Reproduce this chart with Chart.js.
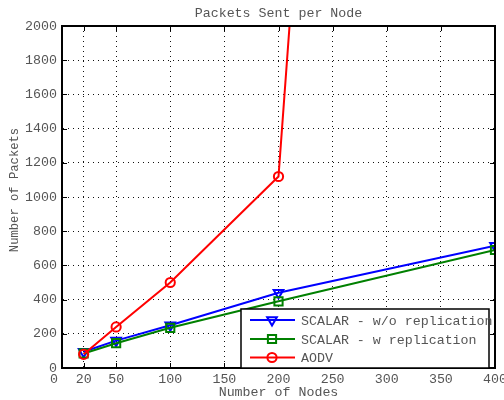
<!DOCTYPE html>
<html>
<head>
<meta charset="utf-8">
<script src="https://cdn.jsdelivr.net/npm/chart.js@4/dist/chart.umd.min.js"></script>
<style>
  html, body { margin: 0; padding: 0; background: #fff; }
  canvas { display: block; }
</style>
</head>
<body>
<canvas id="c" width="504" height="400"></canvas>
<script>
// Number of nodes in each simulation run
const nodes = [20, 50, 100, 200, 400];
// Packets sent per node
const scalarNoRepl = [95, 160, 250, 440, 715];
const scalarRepl = [85, 145, 235, 390, 690];
const aodv = [80, 240, 500, 1120, 18400];
// Axis ticks
const xTicks = [0, 20, 50, 100, 150, 200, 250, 300, 350, 400];
const seriesLabels = ['SCALAR - w/o replication', 'SCALAR - w replication', 'AODV'];
const chartTitle = 'Packets Sent per Node';
const yTitle = 'Number of Packets';

const FONT = "'Liberation Mono', 'DejaVu Sans Mono', monospace";
const FSIZE = 13.3;
const TEXT = '#555';

const pts = vals => nodes.map((n, i) => ({ x: n, y: vals[i] }));

const styles = [
  { color: '#0000ff', pointStyle: 'triangle', rotation: 180, radius: 5.6 },
  { color: '#008000', pointStyle: 'rect', rotation: 0, radius: 5.8 },
  { color: '#ff0000', pointStyle: 'circle', rotation: 0, radius: 4.6 }
];
const seriesData = [scalarNoRepl, scalarRepl, aodv];

const datasets = seriesData.map((vals, i) => ({
  label: seriesLabels[i],
  data: pts(vals),
  borderColor: styles[i].color,
  backgroundColor: 'transparent',
  borderWidth: 2,
  pointStyle: styles[i].pointStyle,
  pointRotation: styles[i].rotation,
  pointRadius: styles[i].radius,
  pointBorderWidth: 2,
  pointBorderColor: styles[i].color,
  pointBackgroundColor: 'transparent',
  tension: 0,
  order: 2 - i
}));

// Plot title and vertical axis title
const plotTitles = {
  id: 'plotTitles',
  afterDraw(chart) {
    const { ctx, chartArea: a } = chart;
    ctx.save();
    ctx.fillStyle = TEXT;
    ctx.textAlign = 'center';
    ctx.textBaseline = 'middle';
    ctx.font = FSIZE + 'px ' + FONT;
    ctx.fillText(chartTitle, (a.left + a.right) / 2, 13);
    ctx.translate(15, 190);
    ctx.rotate(-Math.PI / 2);
    ctx.font = '12.2px ' + FONT;
    ctx.fillText(yTitle, 0, 0);
    ctx.restore();
  }
};

// Inward tick marks on all four sides plus the closing box frame
const frameTicks = {
  id: 'frameTicks',
  afterDatasetsDraw(chart) {
    const { ctx, chartArea: a, scales } = chart;
    const len = 5;
    ctx.save();
    ctx.strokeStyle = '#000';
    ctx.lineWidth = 1;
    ctx.beginPath();
    scales.x.ticks.forEach(t => {
      const px = Math.round(scales.x.getPixelForValue(t.value)) + 0.5;
      ctx.moveTo(px, a.bottom); ctx.lineTo(px, a.bottom - len);
      ctx.moveTo(px, a.top); ctx.lineTo(px, a.top + len);
    });
    scales.y.ticks.forEach(t => {
      const py = Math.round(scales.y.getPixelForValue(t.value)) + 0.5;
      ctx.moveTo(a.left, py); ctx.lineTo(a.left + len, py);
      ctx.moveTo(a.right, py); ctx.lineTo(a.right - len, py);
    });
    ctx.stroke();
    ctx.lineWidth = 2;
    ctx.strokeRect(a.left, a.top, a.right - a.left, a.bottom - a.top);
    ctx.restore();
  }
};

// Boxed legend inside the lower right corner of the plot
const boxLegend = {
  id: 'boxLegend',
  afterDraw(chart) {
    const { ctx, chartArea: a } = chart;
    const right = a.right - 6, bottom = a.bottom;
    const left = right - 248, top = bottom - 59;
    ctx.save();
    ctx.fillStyle = '#fff';
    ctx.fillRect(left, top, right - left, bottom - top);
    ctx.strokeStyle = '#000';
    ctx.lineWidth = 1.5;
    ctx.strokeRect(left, top, right - left, bottom - top);
    ctx.font = FSIZE + 'px ' + FONT;
    ctx.textBaseline = 'middle';
    ctx.textAlign = 'left';
    const rows = [top + 11, top + 30, top + 48.5];
    seriesLabels.forEach((lab, i) => {
      const y = rows[i];
      const s = styles[i];
      ctx.strokeStyle = s.color;
      ctx.lineWidth = 2;
      ctx.beginPath();
      ctx.moveTo(left + 9, y); ctx.lineTo(left + 54, y);
      ctx.stroke();
      ctx.fillStyle = 'transparent';
      Chart.helpers.drawPoint(ctx, {
        pointStyle: s.pointStyle, rotation: s.rotation, radius: s.radius, borderWidth: 2
      }, left + 31, y);
      ctx.fillStyle = TEXT;
      ctx.fillText(lab, left + 60, y + 1);
    });
    ctx.restore();
  }
};

new Chart(document.getElementById('c'), {
  type: 'line',
  data: { datasets },
  options: {
    responsive: false,
    animation: false,
    devicePixelRatio: 1,
    layout: { padding: { top: 26, right: 9, bottom: 0, left: 0 } },
    plugins: {
      legend: { display: false },
      tooltip: { enabled: false },
      title: { display: false }
    },
    scales: {
      x: {
        type: 'linear',
        min: 0,
        max: 400,
        afterBuildTicks: s => { s.ticks = xTicks.map(v => ({ value: v })); },
        afterFit: s => { s.height = 32; s.paddingRight = 0; s.paddingLeft = 0; },
        ticks: {
          autoSkip: false, maxRotation: 0, padding: 3,
          color: TEXT, font: { family: FONT, size: FSIZE },
          // the origin label sits left of the corner, under the y-axis zero
          callback: v => (v === 0 ? '0  ' : String(v))
        },
        grid: { color: '#111', lineWidth: 1, drawTicks: false },
        border: { display: true, color: '#000', width: 2, dash: [1, 4] },
        title: {
          display: true, text: 'Number of Nodes', color: TEXT,
          font: { family: FONT, size: FSIZE, lineHeight: 1.2 },
          padding: { top: 0, bottom: 0 }
        }
      },
      y: {
        min: 0,
        max: 2000,
        afterFit: s => { s.width = 62; s.paddingTop = 0; },
        ticks: {
          stepSize: 200, padding: 5,
          color: TEXT, font: { family: FONT, size: FSIZE },
          callback: v => String(v)
        },
        grid: { color: '#111', lineWidth: 1, drawTicks: false },
        border: { display: true, color: '#000', width: 2, dash: [1, 4] },
        title: { display: false }
      }
    }
  },
  plugins: [plotTitles, frameTicks, boxLegend]
});
</script>
</body>
</html>
